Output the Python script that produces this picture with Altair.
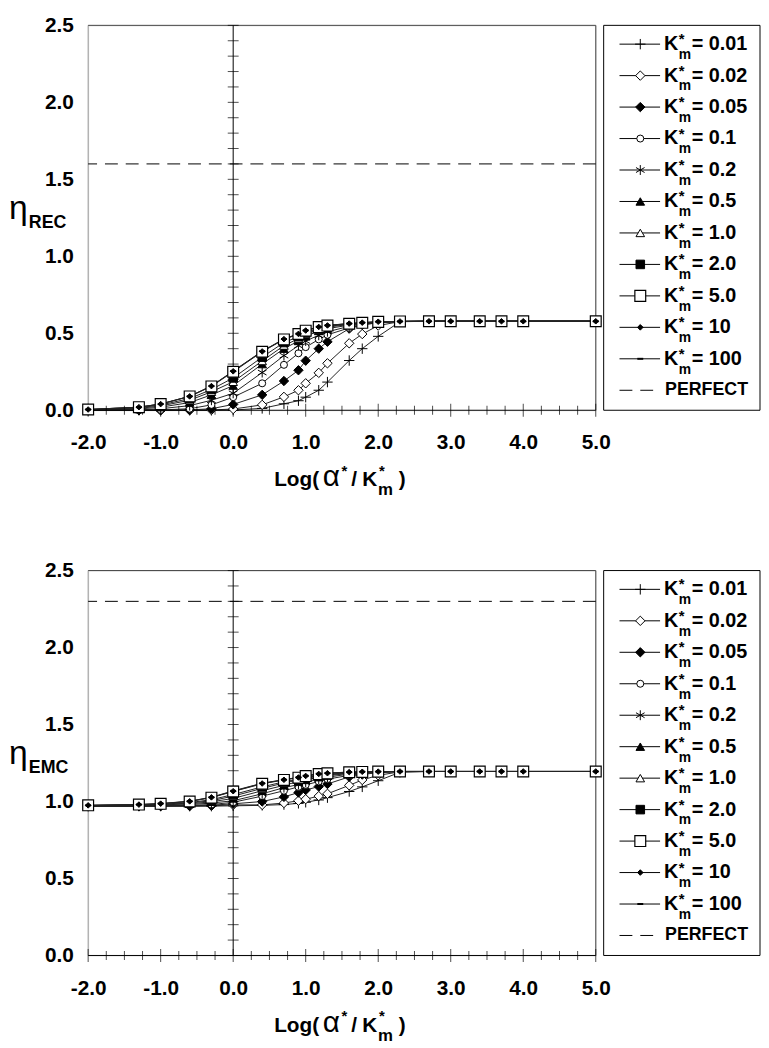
import altair as alt
import pandas as pd

# ---------------- data ----------------
X = [-2.0, -1.3, -1.0, -0.6, -0.3, 0.0, 0.4, 0.7, 0.9, 1.0, 1.18, 1.3,
     1.6, 1.78, 2.0, 2.3, 2.7, 3.0, 3.4, 3.7, 4.0, 5.0]
K_LABELS = ["0.01", "0.02", "0.05", "0.1", "0.2", "0.5", "1.0", "2.0", "5.0", "10", "100"]

REC_001 = [0.000, 0.000, 0.000, 0.000, 0.000, 0.002, 0.012, 0.042, 0.062, 0.085, 0.130, 0.183, 0.323, 0.400, 0.480, 0.575, 0.578, 0.578, 0.578, 0.578, 0.578, 0.578]
REC_002 = [0.000, 0.000, 0.000, 0.000, 0.002, 0.008, 0.035, 0.087, 0.130, 0.175, 0.243, 0.305, 0.435, 0.495, 0.550, 0.576, 0.578, 0.578, 0.578, 0.578, 0.578, 0.578]
REC_005 = [0.000, 0.000, 0.000, 0.002, 0.010, 0.038, 0.100, 0.190, 0.260, 0.322, 0.400, 0.445, 0.530, 0.555, 0.570, 0.577, 0.578, 0.578, 0.578, 0.578, 0.578, 0.578]
REC_01 = [0.000, 0.000, 0.002, 0.010, 0.035, 0.085, 0.175, 0.295, 0.370, 0.410, 0.460, 0.490, 0.535, 0.555, 0.568, 0.577, 0.578, 0.578, 0.578, 0.578, 0.578, 0.578]
REC_02 = [0.000, 0.002, 0.010, 0.030, 0.065, 0.110, 0.245, 0.355, 0.420, 0.450, 0.487, 0.510, 0.545, 0.560, 0.570, 0.577, 0.578, 0.578, 0.578, 0.578, 0.578, 0.578]
REC_05 = [0.002, 0.008, 0.020, 0.050, 0.100, 0.160, 0.300, 0.400, 0.450, 0.480, 0.515, 0.530, 0.553, 0.563, 0.572, 0.577, 0.578, 0.578, 0.578, 0.578, 0.578, 0.578]
REC_1 = [0.003, 0.012, 0.028, 0.065, 0.120, 0.185, 0.320, 0.420, 0.465, 0.495, 0.525, 0.540, 0.557, 0.565, 0.573, 0.577, 0.578, 0.578, 0.578, 0.578, 0.578, 0.578]
REC_2 = [0.004, 0.016, 0.034, 0.076, 0.135, 0.210, 0.345, 0.440, 0.478, 0.505, 0.532, 0.545, 0.560, 0.567, 0.574, 0.577, 0.578, 0.578, 0.578, 0.578, 0.578, 0.578]
REC_5 = [0.005, 0.020, 0.040, 0.090, 0.155, 0.250, 0.380, 0.460, 0.495, 0.517, 0.540, 0.550, 0.562, 0.568, 0.574, 0.577, 0.578, 0.578, 0.578, 0.578, 0.578, 0.578]
REC_10 = [0.005, 0.020, 0.040, 0.090, 0.157, 0.253, 0.382, 0.462, 0.496, 0.518, 0.541, 0.551, 0.563, 0.569, 0.575, 0.577, 0.578, 0.578, 0.578, 0.578, 0.578, 0.578]
REC_100 = [0.005, 0.020, 0.041, 0.091, 0.158, 0.255, 0.384, 0.463, 0.497, 0.519, 0.542, 0.552, 0.563, 0.569, 0.575, 0.577, 0.578, 0.578, 0.578, 0.578, 0.578, 0.578]

EMC_001 = [0.970, 0.970, 0.970, 0.970, 0.970, 0.972, 0.975, 0.980, 0.988, 0.995, 1.010, 1.025, 1.065, 1.095, 1.135, 1.190, 1.195, 1.195, 1.195, 1.195, 1.195, 1.195]
EMC_002 = [0.970, 0.970, 0.970, 0.970, 0.972, 0.978, 0.978, 0.990, 1.005, 1.015, 1.035, 1.050, 1.105, 1.140, 1.170, 1.193, 1.195, 1.195, 1.195, 1.195, 1.195, 1.195]
EMC_005 = [0.970, 0.970, 0.970, 0.972, 0.976, 0.985, 1.000, 1.030, 1.058, 1.075, 1.097, 1.114, 1.160, 1.175, 1.188, 1.195, 1.195, 1.195, 1.195, 1.195, 1.195, 1.195]
EMC_01 = [0.970, 0.970, 0.972, 0.975, 0.980, 0.995, 1.035, 1.070, 1.095, 1.108, 1.130, 1.145, 1.170, 1.180, 1.190, 1.195, 1.195, 1.195, 1.195, 1.195, 1.195, 1.195]
EMC_02 = [0.970, 0.972, 0.974, 0.980, 0.990, 1.005, 1.050, 1.090, 1.110, 1.125, 1.145, 1.158, 1.178, 1.186, 1.191, 1.195, 1.195, 1.195, 1.195, 1.195, 1.195, 1.195]
EMC_05 = [0.972, 0.974, 0.977, 0.985, 0.998, 1.020, 1.070, 1.105, 1.130, 1.140, 1.158, 1.168, 1.182, 1.188, 1.192, 1.195, 1.195, 1.195, 1.195, 1.195, 1.195, 1.195]
EMC_1 = [0.973, 0.976, 0.979, 0.990, 1.005, 1.035, 1.085, 1.120, 1.140, 1.150, 1.165, 1.173, 1.185, 1.190, 1.193, 1.195, 1.195, 1.195, 1.195, 1.195, 1.195, 1.195]
EMC_2 = [0.974, 0.978, 0.982, 0.993, 1.012, 1.045, 1.095, 1.128, 1.145, 1.155, 1.170, 1.177, 1.187, 1.190, 1.193, 1.195, 1.195, 1.195, 1.195, 1.195, 1.195, 1.195]
EMC_5 = [0.975, 0.980, 0.985, 1.000, 1.025, 1.065, 1.115, 1.140, 1.155, 1.165, 1.178, 1.183, 1.190, 1.192, 1.194, 1.195, 1.195, 1.195, 1.195, 1.195, 1.195, 1.195]
EMC_10 = [0.975, 0.980, 0.986, 1.001, 1.027, 1.067, 1.117, 1.141, 1.156, 1.166, 1.179, 1.184, 1.191, 1.193, 1.194, 1.195, 1.195, 1.195, 1.195, 1.195, 1.195, 1.195]
EMC_100 = [0.975, 0.980, 0.987, 1.002, 1.028, 1.069, 1.119, 1.142, 1.157, 1.167, 1.180, 1.185, 1.191, 1.193, 1.194, 1.195, 1.195, 1.195, 1.195, 1.195, 1.195, 1.195]

PERFECT_REC = 1.6
PERFECT_EMC = 2.3

X_MIN, X_MAX = -2.0, 5.0
Y_MIN, Y_MAX = 0.0, 2.5
X_LABELS = [-2.0, -1.0, 0.0, 1.0, 2.0, 3.0, 4.0, 5.0]
Y_LABELS = [0.0, 0.5, 1.0, 1.5, 2.0, 2.5]
X_MINOR = [i / 4 for i in range(-8, 21) if i % 4 != 0]
Y_TICKS = [i / 10 for i in range(0, 26)]

TITLE_PARTS = ["Log(", "α", "*", "/", "K", "*", "m", ")"]
LEGEND_PERFECT = "PERFECT"

REC_SERIES = [REC_001, REC_002, REC_005, REC_01, REC_02, REC_05, REC_1, REC_2, REC_5, REC_10, REC_100]
EMC_SERIES = [EMC_001, EMC_002, EMC_005, EMC_01, EMC_02, EMC_05, EMC_1, EMC_2, EMC_5, EMC_10, EMC_100]

# ---------------- styles ----------------
FONT = "Liberation Sans"
W, H = 513, 389
LX, LW, LH = 521, 158, 389      # legend box (pixels, relative to plot)
LY0, LSTEP = 19, 31.8           # legend rows

PLUS = "M-1,0L1,0M0,-1L0,1"
ASTER = "M0,-1L0,1M-0.87,-0.5L0.87,0.5M-0.87,0.5L0.87,-0.5"
DASH = "M-1,0L1,0"

STYLES = [
    dict(shape=PLUS, filled=False, color="black", size=110, strokeWidth=1),
    dict(shape="diamond", filled=True, fill="white", stroke="black", size=90, strokeWidth=1),
    dict(shape="diamond", filled=True, fill="black", stroke="black", size=90, strokeWidth=1),
    dict(shape="circle", filled=True, fill="white", stroke="black", size=50, strokeWidth=1),
    dict(shape=ASTER, filled=False, color="black", size=100, strokeWidth=1),
    dict(shape="triangle-up", filled=True, fill="black", stroke="black", size=75, strokeWidth=1),
    dict(shape="triangle-up", filled=True, fill="white", stroke="black", size=75, strokeWidth=1),
    dict(shape="square", filled=True, fill="black", stroke="black", size=75, strokeWidth=1),
    dict(shape="square", filled=True, fill="white", stroke="black", size=120, strokeWidth=1.2),
    dict(shape="diamond", filled=True, fill="black", stroke="black", size=32, strokeWidth=1),
    dict(shape=DASH, filled=False, color="black", size=36, strokeWidth=2),
]

XS = alt.Scale(domain=[X_MIN, X_MAX], nice=False, zero=False)
YS = alt.Scale(domain=[Y_MIN, Y_MAX], nice=False, zero=False)

LABEL_EXPR = "replace(format(datum.value, '.1f'), '\u2212', '-')"

XAXIS = alt.Axis(values=X_LABELS, labelExpr=LABEL_EXPR, labelFont=FONT, labelFontWeight="bold",
                 labelFontSize=21, labelColor="black", ticks=False, domain=False,
                 grid=False, labelPadding=22, title=None, labelFlush=False, labelOverlap=False)
YAXIS = alt.Axis(values=Y_LABELS, labelExpr=LABEL_EXPR, labelFont=FONT, labelFontWeight="bold",
                 labelFontSize=21, labelColor="black", ticks=False, domain=False,
                 grid=False, labelPadding=15, title=None, labelFlush=False, labelOverlap=False)

DUMMY = pd.DataFrame({"d": [0]})


def xq(field):
    return alt.X(field, type="quantitative", scale=XS, axis=XAXIS)


def yq(field):
    return alt.Y(field, type="quantitative", scale=YS, axis=YAXIS)


def txt(text, px, py, size, weight="bold", dy=0, baseline="alphabetic"):
    return alt.Chart(DUMMY).mark_text(
        text=text, font=FONT, fontSize=size, fontWeight=weight, align="left",
        baseline=baseline, color="black", dy=dy).encode(x=alt.value(px), y=alt.value(py))


def panel(series, perfect, sub):
    layers = []
    dfs = [pd.DataFrame({"x": X, "y": s}) for s in series]
    for df in dfs:
        layers.append(alt.Chart(df).mark_line(color="#222222", strokeWidth=1).encode(
            x=xq("x"), y=yq("y")))
    # frame
    layers.append(alt.Chart(pd.DataFrame({"x": [X_MIN]})).mark_rule(
        color="#9a9a9a", strokeWidth=1).encode(x=xq("x")))
    layers.append(alt.Chart(pd.DataFrame({"x": [X_MAX]})).mark_rule(
        color="#444444", strokeWidth=1).encode(x=xq("x")))
    layers.append(alt.Chart(pd.DataFrame({"y": [Y_MAX]})).mark_rule(
        color="#444444", strokeWidth=1).encode(y=yq("y")))
    # perfect line
    layers.append(alt.Chart(pd.DataFrame({"y": [perfect]})).mark_rule(
        color="black", strokeWidth=1, strokeDash=[13, 8]).encode(y=yq("y")))
    # axis lines through the origin
    layers.append(alt.Chart(pd.DataFrame({"y": [0.0]})).mark_rule(
        color="black", strokeWidth=1).encode(y=yq("y")))
    layers.append(alt.Chart(pd.DataFrame({"x": [0.0], "y": [Y_MIN], "y2": [Y_MAX]})).mark_rule(
        color="black", strokeWidth=1).encode(x=xq("x"), y=yq("y"), y2="y2"))
    # crossing ticks
    layers.append(alt.Chart(pd.DataFrame({"x": X_MINOR, "y": [0.0] * len(X_MINOR)})).mark_tick(
        orient="vertical", size=9, thickness=1, color="black").encode(x=xq("x"), y=yq("y")))
    layers.append(alt.Chart(pd.DataFrame({"x": X_LABELS, "y": [0.0] * len(X_LABELS)})).mark_tick(
        orient="vertical", size=13, thickness=1, color="black").encode(x=xq("x"), y=yq("y")))
    layers.append(alt.Chart(pd.DataFrame({"x": [0.0] * len(Y_TICKS), "y": Y_TICKS})).mark_tick(
        orient="horizontal", size=11, thickness=1, color="black").encode(x=xq("x"), y=yq("y")))
    # markers
    for df, st in zip(dfs, STYLES):
        layers.append(alt.Chart(df).mark_point(opacity=1, **st).encode(x=xq("x"), y=yq("y")))
    # y title: eta with subscript
    layers.append(txt("η", -80, 196, 34, weight="normal"))
    layers.append(txt(sub, -60, 205, 18))
    # x title pieces
    base = H + 77
    specs = [
        (188, 21, "bold", 0),
        (237, 30, "normal", 0),
        (256, 15, "bold", -11),
        (266, 21, "bold", 0),
        (277, 21, "bold", 0),
        (294, 15, "bold", -11),
        (293, 17, "bold", 9),
        (314, 21, "bold", 0),
    ]
    for t, (px, fs, fw, dy) in zip(TITLE_PARTS, specs):
        layers.append(txt(t, px, base, fs, weight=fw, dy=dy))
    # legend box
    layers.append(alt.Chart(DUMMY).mark_rect(
        fill="white", stroke="black", strokeWidth=1).encode(
        x=alt.value(LX), x2=alt.value(LX + LW), y=alt.value(0), y2=alt.value(LH)))
    # legend entries
    for i, (k, st) in enumerate(zip(K_LABELS, STYLES)):
        py = LY0 + LSTEP * i
        layers.append(alt.Chart(DUMMY).mark_rule(color="black", strokeWidth=1).encode(
            x=alt.value(LX + 16), x2=alt.value(LX + 57), y=alt.value(py)))
        layers.append(alt.Chart(DUMMY).mark_point(opacity=1, **st).encode(
            x=alt.value(LX + 37), y=alt.value(py)))
        layers.append(txt("K", LX + 61, py, 20, baseline="middle"))
        layers.append(txt("*", LX + 76, py, 15, baseline="middle", dy=-5))
        layers.append(txt("m", LX + 76, py, 14, baseline="middle", dy=11))
        layers.append(txt("= " + k, LX + 89, py, 20, baseline="middle"))
    py = LY0 + LSTEP * len(K_LABELS)
    layers.append(alt.Chart(DUMMY).mark_rule(
        color="black", strokeWidth=1, strokeDash=[13, 8]).encode(
        x=alt.value(LX + 16), x2=alt.value(LX + 57), y=alt.value(py)))
    layers.append(txt(LEGEND_PERFECT, LX + 62, py, 18, baseline="middle"))
    return alt.layer(*layers).properties(width=W, height=H)


chart = alt.vconcat(
    panel(REC_SERIES, PERFECT_REC, "REC"),
    panel(EMC_SERIES, PERFECT_EMC, "EMC"),
    spacing=162, bounds="flush",
).properties(padding=0).configure_view(strokeWidth=0).configure(font=FONT)

chart.save("out.html", embed_options={"renderer": "svg", "actions": False})
